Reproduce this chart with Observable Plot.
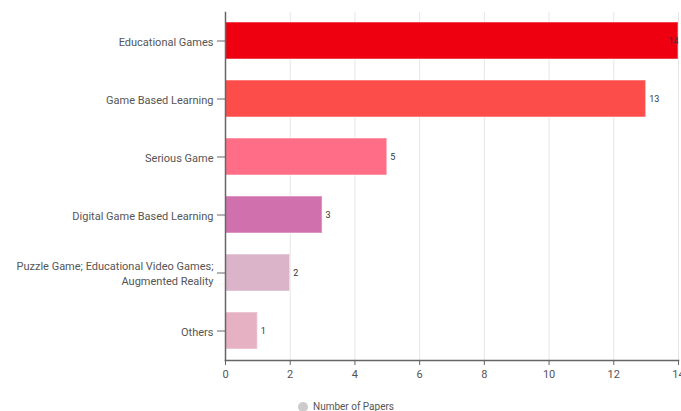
<!DOCTYPE html>
<html>
<head>
<meta charset="utf-8">
<script src="https://cdn.jsdelivr.net/npm/d3@7"></script>
<script src="https://cdn.jsdelivr.net/npm/@observablehq/plot@0.6"></script>
<style>
  html, body { margin: 0; padding: 0; background: #fff; }
  #chart svg { display: block; }
  .legend { position: relative; height: 10px; font-family: Roboto, sans-serif; font-size: 10px; color: #555; }
  .legend .dot { position: absolute; left: 298px; top: 1px; width: 10px; height: 10px; border-radius: 50%; background: #cccccc; }
  .legend .lbl { position: absolute; left: 313px; top: -1px; line-height: 13px; }
</style>
</head>
<body>
<div id="chart"></div>
<div class="legend"><span class="dot"></span><span class="lbl">Number of Papers</span></div>
<script>
const categories = [
  "Educational Games",
  "Game Based Learning",
  "Serious Game",
  "Digital Game Based Learning",
  "Puzzle Game; Educational Video Games;\nAugmented Reality",
  "Others"
];
const papers = [14, 13, 5, 3, 2, 1];
const colors = ["#ee0011", "#fc4d4a", "#ff6e86", "#d071ad", "#dbb4ca", "#e6b1c3"];
const xTicks = [0, 2, 4, 6, 8, 10, 12, 14];

const data = categories.map((c, i) => ({category: c, value: papers[i], color: colors[i]}));
const maxV = d3.max(papers);

const chart = Plot.plot({
  width: 681,
  height: 401,
  marginLeft: 225,
  marginRight: 3,
  marginTop: 12,
  marginBottom: 41,
  style: {fontFamily: "Roboto, sans-serif", fontSize: "11px", color: "#555", background: "#fff"},
  x: {domain: [0, 14], ticks: xTicks, label: null},
  y: {domain: categories, paddingInner: 0.36, paddingOuter: 0.18, label: null},
  marks: [
    Plot.gridX(xTicks, {stroke: "#e6e6e6", strokeOpacity: 1}),
    Plot.barX(data, {y: "category", x: "value", fill: "color", stroke: "#ffffff", strokeOpacity: 0.35, strokeWidth: 1.5}),
    Plot.text(data.filter(d => d.value !== maxV), {y: "category", x: "value", text: d => String(d.value), textAnchor: "start", dx: 3, fontSize: 9, fill: "#333"}),
    Plot.text(data.filter(d => d.value === maxV), {y: "category", x: "value", text: d => String(d.value), textAnchor: "end", dx: 0, fontSize: 9, fill: "#333"}),
    Plot.axisY({tickSize: 8, tickPadding: 4, stroke: "#666", fill: "#555", fontSize: 11, lineHeight: 1.3}),
    Plot.axisX({ticks: xTicks, tickSize: 5, tickPadding: 5, stroke: "#666", fill: "#555", fontSize: 11}),
    Plot.frame({anchor: "left", stroke: "#666", strokeWidth: 1.5}),
    Plot.frame({anchor: "bottom", stroke: "#666", strokeWidth: 1.5})
  ]
});
document.getElementById("chart").appendChild(chart);
</script>
</body>
</html>
